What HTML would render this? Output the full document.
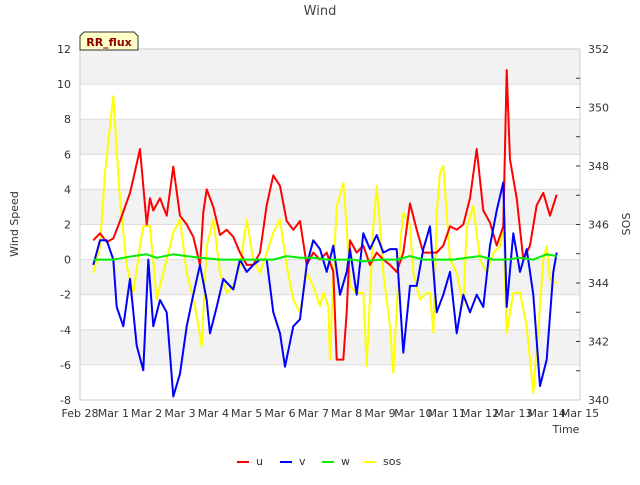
<!DOCTYPE html>
<html><head><meta charset="utf-8"><style>
body{margin:0;background:#fff;font-family:"Liberation Sans",sans-serif}
svg text{font-family:"DejaVu Sans","Liberation Sans",sans-serif}
</style></head><body>
<svg id="c" width="640" height="480" xmlns="http://www.w3.org/2000/svg">
<text x="320" y="15" text-anchor="middle" font-size="13" fill="#444">Wind</text>
<g id="bands"></g><g id="grid"></g><g id="axes"></g><g id="series"></g>
<g>
<path d="M80,50 L80,36 L84,32 L134,32 L138,36 L138,50 Z" fill="#ffffc8" stroke="#333" stroke-width="1"/>
<text x="109" y="46" text-anchor="middle" font-size="11" font-weight="bold" fill="#8b0000">RR_flux</text></g>
<text transform="translate(18,224) rotate(-90)" text-anchor="middle" font-size="11" fill="#333">Wind Speed</text>
<text transform="translate(630,224) rotate(-90)" text-anchor="middle" font-size="11" fill="#333">SOS</text>
<text x="566" y="433" text-anchor="middle" font-size="11" fill="#333">Time</text>
<g id="legend"></g>
</svg>
<script>
const xLabels=["Feb 28","Mar 1","Mar 2","Mar 3","Mar 4","Mar 5","Mar 6","Mar 7","Mar 8","Mar 9","Mar 10","Mar 11","Mar 12","Mar 13","Mar 14","Mar 15"];
const yTicks=[-8,-6,-4,-2,0,2,4,6,8,10,12];
const y2Ticks=[340,342,344,346,348,350,352];
const uDays=[0.4,0.6,0.8,1.0,1.2,1.5,1.6,1.8,2.0,2.1,2.2,2.4,2.6,2.8,3.0,3.2,3.4,3.6,3.7,3.8,4.0,4.2,4.4,4.6,4.8,5.0,5.2,5.4,5.6,5.8,6.0,6.2,6.4,6.6,6.8,7.0,7.2,7.4,7.6,7.7,7.9,8.0,8.1,8.3,8.5,8.7,8.9,9.1,9.3,9.5,9.7,9.9,10.1,10.3,10.5,10.7,10.9,11.1,11.3,11.5,11.7,11.9,12.1,12.3,12.5,12.7,12.8,12.9,13.1,13.3,13.5,13.7,13.9,14.1,14.3];
const uVals=[1.1,1.5,1.0,1.2,2.2,3.8,4.6,6.3,2.0,3.5,2.8,3.5,2.5,5.3,2.5,2.0,1.3,-0.3,2.7,4.0,3.0,1.4,1.7,1.3,0.4,-0.3,-0.3,0.4,3.1,4.8,4.2,2.2,1.7,2.2,-0.3,0.4,0,0.4,-0.7,-5.7,-5.7,-3,1.1,0.4,0.8,-0.3,0.4,0,-0.3,-0.7,0.4,3.2,1.7,0.4,0.4,0.4,0.8,1.9,1.7,2.0,3.5,6.3,2.8,2.1,0.8,1.9,10.8,5.7,3.5,0,0.8,3.1,3.8,2.5,3.7];
const vDays=[0.4,0.6,0.8,1.0,1.1,1.3,1.5,1.7,1.9,2.05,2.2,2.4,2.6,2.8,3.0,3.2,3.4,3.6,3.8,3.9,4.1,4.3,4.6,4.8,5.0,5.2,5.4,5.6,5.8,6.0,6.15,6.4,6.6,6.8,7.0,7.2,7.4,7.6,7.8,8.0,8.1,8.3,8.5,8.7,8.9,9.1,9.3,9.5,9.7,9.9,10.1,10.3,10.5,10.7,10.9,11.1,11.3,11.5,11.7,11.9,12.1,12.3,12.5,12.7,12.8,13.0,13.2,13.4,13.6,13.8,14.0,14.2,14.3];
const vVals=[-0.3,1.1,1.1,0,-2.7,-3.8,-1.1,-4.9,-6.3,0,-3.8,-2.3,-3,-7.8,-6.5,-3.8,-2,-0.3,-2.3,-4.2,-2.7,-1.1,-1.7,0,-0.7,-0.3,0,0,-3,-4.2,-6.1,-3.8,-3.4,-0.3,1.1,0.6,-0.7,0.8,-2,-0.7,0.6,-2,1.5,0.6,1.4,0.4,0.6,0.6,-5.3,-1.5,-1.5,0.6,1.9,-3,-2,-0.7,-4.2,-2,-3,-2,-2.7,0.8,2.8,4.4,-2.7,1.5,-0.7,0.6,-2,-7.2,-5.7,-0.7,0.4];
const sDays=[0.4,0.6,0.75,1.0,1.2,1.4,1.6,1.8,1.9,2.1,2.3,2.5,2.8,3.0,3.2,3.45,3.65,3.8,4.0,4.2,4.4,4.6,4.8,5.0,5.2,5.4,5.6,5.8,6.0,6.2,6.4,6.6,6.8,7.0,7.2,7.3,7.45,7.5,7.6,7.7,7.9,8.0,8.1,8.3,8.5,8.6,8.8,8.9,9.0,9.1,9.3,9.4,9.6,9.7,9.9,10.0,10.2,10.4,10.5,10.6,10.7,10.8,10.9,11.1,11.3,11.5,11.6,11.8,12.0,12.2,12.4,12.6,12.7,12.8,13.0,13.2,13.4,13.6,13.8,13.9,14.0,14.1,14.3];
const sVals=[344.35,345.26,347.77,350.39,346.85,344.58,343.66,345.26,345.94,345.94,343.44,344.35,345.72,346.17,344.35,343.21,341.84,345.26,346.17,344.35,343.66,343.89,344.58,346.17,344.8,344.35,345.03,345.72,346.17,344.58,343.44,342.98,344.35,343.89,343.21,343.66,343.21,341.38,344.35,346.63,347.42,345.94,343.89,343.66,343.66,341.16,345.94,347.31,345.94,344.35,342.52,340.93,345.26,346.4,345.94,344.35,343.44,343.66,343.66,342.3,346.4,347.77,348.0,344.8,344.35,343.21,345.94,346.63,344.8,344.35,345.03,345.26,345.94,342.3,343.66,343.66,342.52,340.25,343.21,344.8,345.26,344.12,344.0];
const wDays=[0.4,1.0,1.3,1.6,2.0,2.3,2.8,3.2,3.6,4.2,4.8,5.4,5.8,6.2,6.6,7.0,7.4,7.8,8.2,8.5,9.0,9.5,9.9,10.3,10.8,11.2,11.6,12.0,12.4,12.8,13.2,13.6,14.0,14.3];
const wVals=[0,0,0.1,0.2,0.3,0.1,0.3,0.2,0.1,0,0,0,0,0.2,0.1,0.1,0,0,0,-0.1,0,0,0.2,0,0,0,0.1,0.2,0,0,0.1,0,0.3,0.2];
const L=80,R=580,T=49,B=400;
const X=d=>L+(R-L)*d/15;
const Y=v=>B-(v+8)/20*(B-T);
const Y2=v=>B-(v-340)/12*(B-T);
const NS="http://www.w3.org/2000/svg";
function mk(p,t,a){const e=document.createElementNS(NS,t);for(const k in a)e.setAttribute(k,a[k]);p.appendChild(e);return e;}
const bands=document.getElementById('bands'),grid=document.getElementById('grid'),axes=document.getElementById('axes'),ser=document.getElementById('series'),leg=document.getElementById('legend');
mk(bands,'rect',{x:L,y:T,width:R-L,height:B-T,fill:'#fff'});
for(let v=12;v>-8;v-=4){const r=mk(bands,'rect',{x:L,y:Y(v),width:R-L,height:Y(v-2)-Y(v),fill:'#f2f2f2'});

}
yTicks.forEach(v=>{const l=mk(grid,'line',{x1:L,x2:R,y1:Y(v),y2:Y(v),stroke:'#dcdcdc','stroke-width':1});


const t=mk(axes,'text',{x:L-9,y:Y(v)+4,'text-anchor':'end','font-size':11,fill:'#333'});t.textContent=v;

});
mk(axes,'rect',{x:L,y:T,width:R-L,height:B-T,fill:'none',stroke:'#ccc'});
y2Ticks.forEach(v=>{const t=mk(axes,'text',{x:R+8,y:Y2(v)+4,'font-size':11,fill:'#333'});t.textContent=v;

});
for(let v=341;v<352;v++){mk(axes,'line',{x1:R-4,x2:R,y1:Y2(v),y2:Y2(v),stroke:'#333'});}
xLabels.forEach((s,i)=>{const t=mk(axes,'text',{x:X(i),y:417,'text-anchor':'middle','font-size':11,fill:'#333'});t.textContent=s;

});
function line(days,vals,f,col,name){const d=days.map((t,i)=>(i?'L':'M')+X(t).toFixed(1)+','+f(vals[i]).toFixed(1)).join('');
const p=mk(ser,'path',{d:d,fill:'none',stroke:col,'stroke-width':2,'stroke-linejoin':'round'});

}
line(sDays,sVals,Y2,'#ffff00','sos-line');
line(uDays,uVals,Y,'#ff0000','u-line');
line(vDays,vVals,Y,'#0000ff','v-line');
line(wDays,wVals,Y,'#00ee00','w-line');
[['u','#ff0000',237],['v','#0000ff',280],['w','#00ee00',322],['sos','#ffff00',364]].forEach(([n,c,x])=>{
const g=mk(leg,'g',{});


mk(g,'line',{x1:x,x2:x+12,y1:462,y2:462,stroke:c,'stroke-width':2});
const t=mk(g,'text',{x:x+19,y:465,'font-size':11,fill:'#333'});t.textContent=n;});
</script>
</body></html>
